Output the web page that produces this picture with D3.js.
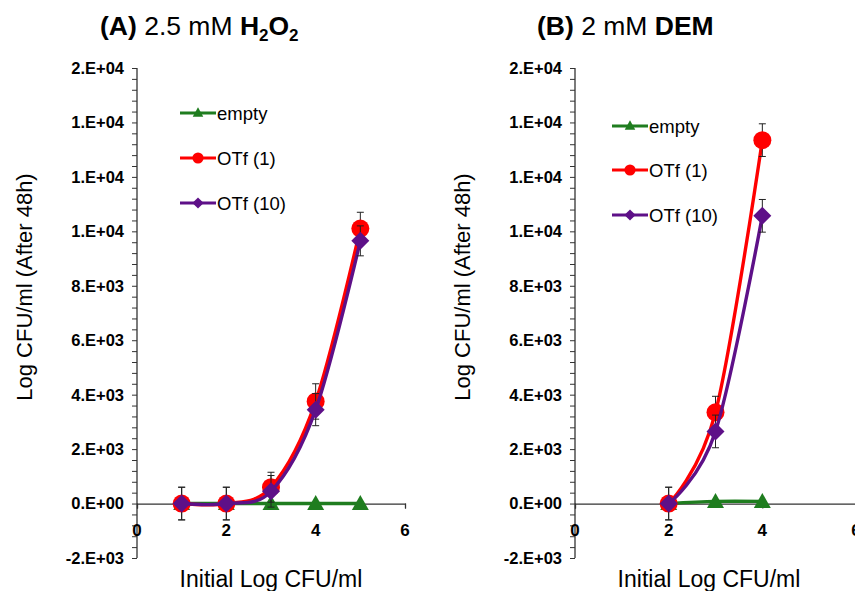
<!DOCTYPE html>
<html>
<head>
<meta charset="utf-8">
<script src="https://cdn.jsdelivr.net/npm/d3@7"></script>
<style>
  body { margin: 0; background: #fff; }
  svg { font-family: "Liberation Sans", Arial, Helvetica, sans-serif; }
</style>
</head>
<body>
<svg width="855" height="591"></svg>
<script>
// panel A: 2.5 mM H2O2
var xA = [1, 2, 3, 4, 5];
var emptyA = [0, 0, 0, 0, 0];
var otf1A = [0, 0, 600, 3750, 10100];
var otf1ErrA = [600, 600, 550, 650, 600];
var otf10A = [0, 0, 450, 3450, 9650];
var otf10ErrA = [600, 600, 580, 590, 550];

// panel B: 2 mM DEM
var xB = [2, 3, 4];
var emptyB = [0, 80, 80];
var otf1B = [0, 3350, 13350];
var otf1ErrB = [600, 590, 600];
var otf10B = [0, 2650, 10570];
var otf10ErrB = [600, 600, 600];

var seriesNames = ["empty", "OTf (1)", "OTf (10)"];
var colors = ["#1f7d1f", "#ff0000", "#5e1088"];
var yTicks = [-2000, 0, 2000, 4000, 6000, 8000, 10000, 12000, 14000, 16000];
var xTicks = [0, 2, 4, 6];

var svg = d3.select("svg");

function excelExp(v) {
    if (v === 0) return "0.E+00";
    var e = Math.floor(Math.log10(Math.abs(v)));
    var m = Math.round(v / Math.pow(10, e));
    return m + ".E" + (e < 0 ? "-" : "+") + String(Math.abs(e)).padStart(2, "0");
}

function marker(g, i, cx, cy, s) {
    // s = 1 for plot markers, smaller for legend
    if (i === 0) {
        var w = 8.5 * s, h = 7.5 * s;
        g.append("path")
            .attr("d", "M" + cx + "," + (cy - h - 1) + "L" + (cx + w) + "," + (cy + h - 1) +
                "L" + (cx - w) + "," + (cy + h - 1) + "Z")
            .attr("fill", colors[0]);
    } else if (i === 1) {
        g.append("circle").attr("cx", cx).attr("cy", cy).attr("r", 9 * s)
            .attr("fill", colors[1]);
    } else {
        var r = 9 * s;
        g.append("path")
            .attr("d", "M" + (cx - r) + "," + cy + "L" + cx + "," + (cy - r) +
                "L" + (cx + r) + "," + cy + "L" + cx + "," + (cy + r) + "Z")
            .attr("fill", colors[2]);
    }
}

function drawPanel(p) {
    var x = d3.scaleLinear().domain([0, 6]).range([p.left, p.right]);
    var y = d3.scaleLinear().domain([-2000, 16000]).range([558, 68]);
    var g = svg.append("g");

    // y axis with minor ticks
    var minor = d3.range(-2000, 16001, 400);
    g.append("g")
        .attr("transform", "translate(" + p.left + ",0)")
        .call(d3.axisLeft(y).tickValues(minor).tickSize(5).tickFormat(""))
        .call(function (a) { a.select(".domain").remove(); a.selectAll("line").attr("stroke", "#333"); });
    g.append("line")
        .attr("x1", p.left).attr("x2", p.left)
        .attr("y1", y(-2000)).attr("y2", y(16000))
        .attr("stroke", "#333").attr("stroke-width", 1.3);
    g.selectAll(".ylab").data(yTicks).enter().append("text")
        .attr("x", p.left - 13).attr("y", function (d) { return y(d); })
        .attr("dy", "0.36em")
        .attr("text-anchor", "end")
        .attr("font-size", 16.5).attr("font-weight", "bold")
        .text(excelExp);

    // x axis at y = 0
    g.append("g")
        .attr("transform", "translate(0," + y(0) + ")")
        .call(d3.axisBottom(x).tickValues(xTicks).tickSize(5).tickFormat(""))
        .call(function (a) { a.select(".domain").attr("stroke", "#333").attr("stroke-width", 1.3); a.selectAll("line").attr("stroke", "#333"); });
    g.selectAll(".xlab").data(xTicks).enter().append("text")
        .attr("x", function (d) { return x(d); }).attr("y", 536)
        .attr("text-anchor", "middle")
        .attr("font-size", 17).attr("font-weight", "bold")
        .text(function (d) { return d; });

    // axis titles
    g.append("text")
        .attr("x", p.xLabelX).attr("y", 587)
        .attr("text-anchor", "middle").attr("font-size", 23)
        .text("Initial Log CFU/ml");
    g.append("text")
        .attr("transform", "translate(" + p.yLabelX + ",287) rotate(-90)")
        .attr("text-anchor", "middle").attr("font-size", 22)
        .text("Log CFU/ml (After 48h)");

    // series
    var line = d3.line().curve(d3.curveCardinal.tension(0))
        .x(function (d) { return x(d[0]); })
        .y(function (d) { return y(d[1]); });

    p.series.forEach(function (s, i) {
        var pts = p.xs.map(function (xv, k) { return [xv, s.values[k], s.err ? s.err[k] : 0]; });
        g.append("path").datum(pts)
            .attr("d", line)
            .attr("fill", "none")
            .attr("stroke", colors[i]).attr("stroke-width", 3.4);
        if (s.err) {
            pts.forEach(function (d) {
                var cx = x(d[0]);
                g.append("line").attr("x1", cx).attr("x2", cx)
                    .attr("y1", y(d[1] - d[2])).attr("y2", y(d[1] + d[2]))
                    .attr("stroke", "#222").attr("stroke-width", 1);
                [d[1] - d[2], d[1] + d[2]].forEach(function (v) {
                    g.append("line").attr("x1", cx - 3.5).attr("x2", cx + 3.5)
                        .attr("y1", y(v)).attr("y2", y(v))
                        .attr("stroke", "#222").attr("stroke-width", 1);
                });
            });
        }
        pts.forEach(function (d) { marker(g, i, x(d[0]), y(d[1]), 1); });
    });

    // legend
    seriesNames.forEach(function (name, i) {
        var ly = p.legendY[i];
        g.append("line")
            .attr("x1", p.legendX).attr("x2", p.legendX + 36)
            .attr("y1", ly).attr("y2", ly)
            .attr("stroke", colors[i]).attr("stroke-width", 3);
        marker(g, i, p.legendX + 18, ly, 0.62);
        g.append("text")
            .attr("x", p.legendX + 37).attr("y", ly).attr("dy", "0.36em")
            .attr("font-size", 18.5)
            .text(name);
    });

    // title
    var t = g.append("text")
        .attr("x", p.titleX).attr("y", 35)
        .attr("font-size", 26.5);
    p.title(t);
}

drawPanel({
    left: 137, right: 405, xLabelX: 271, yLabelX: 32,
    xs: xA,
    series: [{ values: emptyA }, { values: otf1A, err: otf1ErrA }, { values: otf10A, err: otf10ErrA }],
    legendX: 180, legendY: [113, 158, 203],
    titleX: 100,
    title: function (t) {
        t.append("tspan").attr("font-weight", "bold").text("(A)");
        t.append("tspan").text(" 2.5 mM ");
        t.append("tspan").attr("font-weight", "bold").text("H");
        t.append("tspan").attr("font-weight", "bold").attr("font-size", 17).attr("dy", 6).text("2");
        t.append("tspan").attr("font-weight", "bold").attr("dy", -6).text("O");
        t.append("tspan").attr("font-weight", "bold").attr("font-size", 17).attr("dy", 6).text("2");
    }
});

drawPanel({
    left: 575, right: 856, xLabelX: 709, yLabelX: 470,
    xs: xB,
    series: [{ values: emptyB }, { values: otf1B, err: otf1ErrB }, { values: otf10B, err: otf10ErrB }],
    legendX: 612, legendY: [126, 170, 215],
    titleX: 537,
    title: function (t) {
        t.append("tspan").attr("font-weight", "bold").text("(B)");
        t.append("tspan").text(" 2 mM ");
        t.append("tspan").attr("font-weight", "bold").text("DEM");
    }
});
</script>
</body>
</html>
